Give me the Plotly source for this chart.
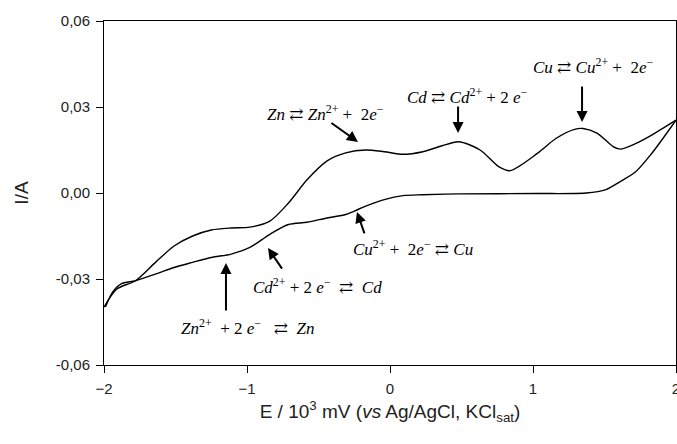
import plotly.graph_objects as go

# Forward (anodic) scan
forward_E = [-2.00, -1.91, -1.78, -1.64, -1.51, -1.38, -1.25, -1.11, -0.98, -0.84,
             -0.71, -0.58, -0.44, -0.31, -0.17, -0.04, 0.09, 0.23, 0.36, 0.48,
             0.63, 0.76, 0.84, 1.03, 1.16, 1.29, 1.35, 1.45, 1.56, 1.61, 1.72, 1.83, 2.00]
forward_I = [-0.0398, -0.0335, -0.0306, -0.0242, -0.0185, -0.0150, -0.0129, -0.0122, -0.0119, -0.0098,
             -0.0035, 0.0046, 0.0112, 0.0140, 0.0150, 0.0144, 0.0135, 0.0144, 0.0164, 0.0179,
             0.0150, 0.0092, 0.0078, 0.0138, 0.0190, 0.0222, 0.0225, 0.0208, 0.0162, 0.0153, 0.0173, 0.0202, 0.0254]

# Reverse (cathodic) scan
reverse_E = [2.00, 1.83, 1.72, 1.61, 1.51, 1.37, 1.03, 0.49, 0.23, 0.09, -0.04, -0.17,
             -0.25, -0.31, -0.44, -0.58, -0.71, -0.84, -0.98, -1.11, -1.25, -1.38,
             -1.51, -1.64, -1.78, -1.88, -1.94, -1.99]
reverse_I = [0.0254, 0.0138, 0.0075, 0.0040, 0.0012, 0.0000, -0.0002, -0.0003, -0.0006, -0.0009, -0.0023, -0.0046,
             -0.0063, -0.0075, -0.0087, -0.0102, -0.0110, -0.0144, -0.0190, -0.0213, -0.0225, -0.0242,
             -0.0260, -0.0283, -0.0306, -0.0317, -0.0346, -0.0398]

y_tickvals = [-0.06, -0.03, 0.0, 0.03, 0.06]
y_ticktext = ["-0,06", "-0,03", "0,00", "0,03", "0,06"]
x_tickvals = [-2, -1, 0, 1, 2]

EQ = "⇄"
labels = [
    f"<i>Zn</i> {EQ} <i>Zn</i><sup>2+</sup> +  2<i>e</i><sup>−</sup>",
    f"<i>Cd</i> {EQ} <i>Cd</i><sup>2+</sup> + 2 <i>e</i><sup>−</sup>",
    f"<i>Cu</i> {EQ} <i>Cu</i><sup>2+</sup> +  2<i>e</i><sup>−</sup>",
    f"<i>Cu</i><sup>2+</sup> +  2<i>e</i><sup>−</sup> {EQ} <i>Cu</i>",
    f"<i>Cd</i><sup>2+</sup> + 2 <i>e</i><sup>−</sup>  {EQ}  <i>Cd</i>",
    f"<i>Zn</i><sup>2+</sup>  + 2 <i>e</i><sup>−</sup>   {EQ}  <i>Zn</i>",
]
# (text x, text y, arrow head x, head y, tail x, tail y)
ann_pos = [
    (-0.45, 0.0279, -0.224, 0.0178, -0.420, 0.0248),
    (0.54, 0.0338, 0.476, 0.0209, 0.476, 0.0307),
    (1.42, 0.0443, 1.343, 0.0248, 1.343, 0.0377),
    (0.16, -0.0192, -0.231, -0.0066, -0.175, -0.0146),
    (-0.51, -0.0324, -0.853, -0.0192, -0.748, -0.0269),
    (-1.00, -0.0467, -1.147, -0.0244, -1.147, -0.0415),
]

fig = go.Figure()
fig.add_trace(go.Scatter(x=forward_E, y=forward_I, mode="lines",
                         line=dict(color="black", width=1.4, shape="spline", smoothing=0.8),
                         showlegend=False))
fig.add_trace(go.Scatter(x=reverse_E, y=reverse_I, mode="lines",
                         line=dict(color="black", width=1.4, shape="spline", smoothing=0.8),
                         showlegend=False))

annotations = []
for lab, (tx, ty, hx, hy, ax, ay) in zip(labels, ann_pos):
    annotations.append(dict(x=tx, y=ty, xref="x", yref="y", text=lab, showarrow=False,
                            font=dict(family="Liberation Serif, DejaVu Serif, serif", size=17, color="black")))
    annotations.append(dict(x=hx, y=hy, ax=ax, ay=ay, xref="x", yref="y", axref="x", ayref="y",
                            text="", showarrow=True, arrowhead=2, arrowsize=1.1, arrowwidth=2,
                            arrowcolor="black", standoff=0, startstandoff=0))

fig.update_layout(
    width=677, height=444,
    margin=dict(l=104, r=1, t=21, b=79, autoexpand=False),
    paper_bgcolor="white", plot_bgcolor="white",
    font=dict(family="Liberation Sans, Arial, sans-serif", size=15, color="#222"),
    annotations=annotations,
    xaxis=dict(range=[-2, 2], tickvals=x_tickvals, ticks="outside", ticklen=7, tickwidth=1,
               tickcolor="black", showline=True, linecolor="black", linewidth=1, mirror=True,
               showgrid=False, zeroline=False, tickfont=dict(size=15), ticklabeloverflow="allow",
               ticklabelstandoff=3, automargin=False,
               title=dict(text="E / 10<sup>3</sup> mV (<i>vs</i> Ag/AgCl, KCl<sub>sat</sub>)",
                          font=dict(size=19), standoff=8)),
    yaxis=dict(range=[-0.06, 0.06], tickvals=y_tickvals, ticktext=y_ticktext, ticks="outside",
               ticklen=7, tickwidth=1, tickcolor="black", showline=True, linecolor="black",
               linewidth=1, mirror=True, showgrid=False, zeroline=False, tickfont=dict(size=15),
               ticklabelstandoff=3, automargin=False,
               title=dict(text="I/A", font=dict(size=19), standoff=22)),
)

fig.write_html("out.html")
